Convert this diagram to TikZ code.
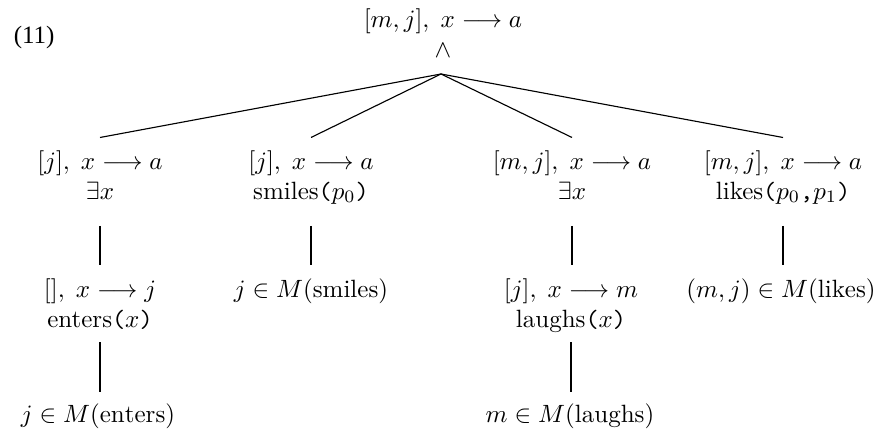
\documentclass[tikz,border=0pt]{standalone}
\usepackage{fontspec}
\newfontfamily\timesfont{Liberation Serif}
\begin{document}
\begin{tikzpicture}[x=0.4pt,y=-0.4pt,
  tnode/.style={anchor=north,align=center,inner sep=0pt,font=\normalsize},
  edge/.style={draw,line width=0.45pt}]
\useasboundingbox (0,0) rectangle (879,430);
\node[font=\timesfont,anchor=west] (num) at (5,37) {(11)};
\node[tnode] (root) at (443,8) {$[m,j],\;x\longrightarrow a$\\ $\wedge$};
\coordinate (apex) at (441,74);
% level 1
\node[tnode] (a) at (100,150) {$[j],\;x\longrightarrow a$\\ $\exists x$};
\node[tnode] (b) at (311,150) {$[j],\;x\longrightarrow a$\\ smiles\texttt{(}$p_0$\texttt{)}};
\node[tnode] (c) at (572,150) {$[m,j],\;x\longrightarrow a$\\ $\exists x$};
\node[tnode] (d) at (783,150) {$[m,j],\;x\longrightarrow a$\\ likes\texttt{(}$p_0$\texttt{,}$p_1$\texttt{)}};
% level 2
\node[tnode] (a2) at (100,278) {$[],\;x\longrightarrow j$\\ enters\texttt{(}$x$\texttt{)}};
\node[tnode] (b2) at (311,278) {$j\in M(\mathrm{smiles})$};
\node[tnode] (c2) at (571,278) {$[j],\;x\longrightarrow m$\\ laughs\texttt{(}$x$\texttt{)}};
\node[tnode] (d2) at (781,278) {$(m,j)\in M(\mathrm{likes})$};
% level 3
\node[tnode] (a3) at (98,403) {$j\in M(\mathrm{enters})$};
\node[tnode] (c3) at (570,403) {$m\in M(\mathrm{laughs})$};
% helper coordinates for vertical connectors
\coordinate (t1) at ([yshift=-10.5pt]a.south);
\coordinate (t2) at ([yshift=5pt]a2.north);
\coordinate (t3) at ([yshift=-5pt]a2.south);
\coordinate (t4) at ([yshift=4.4pt]a3.north);
% edges
\foreach \n in {a,b,c,d} \draw[edge] (apex) -- ([yshift=5pt]\n.north);
\foreach \n in {a,b,c,d} \draw[edge] (t1 -| \n.north) -- (t2 -| \n.north);
\draw[edge] (t3 -| a.north) -- (t4 -| a.north);
\draw[edge] (t3 -| c2.north) -- (t4 -| c2.north);
\end{tikzpicture}
\end{document}
